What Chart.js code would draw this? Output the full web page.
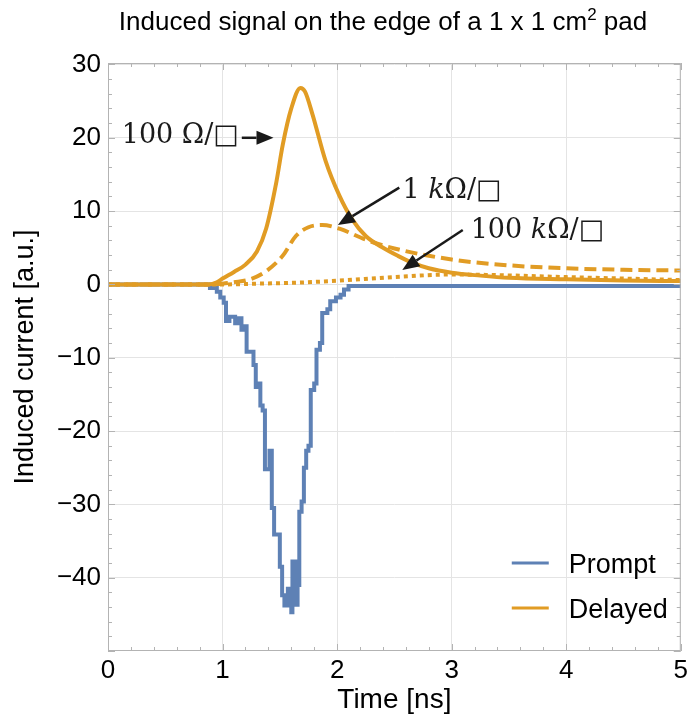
<!DOCTYPE html>
<html>
<head>
<meta charset="utf-8">
<title>Induced signal on the edge of a pad</title>
<script src="https://cdn.jsdelivr.net/npm/chart.js"></script>
<style>
  html, body { margin: 0; padding: 0; background: #fff; }
</style>
</head>
<body>
<canvas id="chart" width="692" height="722"></canvas>
<script>
// Prompt signal (blue, stepped histogram)
const promptT = [0, 0.89, 0.95, 0.98, 1.01, 1.03, 1.06, 1.11, 1.145, 1.165, 1.18, 1.21, 1.27, 1.29, 1.32, 1.33, 1.35, 1.37, 1.41, 1.43, 1.45, 1.50, 1.52, 1.54, 1.57, 1.60, 1.61, 1.635, 1.655, 1.67, 1.69, 1.71, 1.73, 1.75, 1.77, 1.80, 1.82, 1.85, 1.87, 1.915, 1.94, 1.99, 2.03, 2.06, 2.10, 5.0];
const promptI = [0, -0.5, -1.0, -1.8, -2.5, -5.0, -4.4, -5.3, -4.6, -6.2, -5.7, -9.2, -11, -14, -13.5, -16.5, -17.2, -25.2, -22.7, -30.5, -34.1, -38.5, -42.4, -43.8, -41.5, -44.7, -37.8, -43.7, -41, -31, -29.6, -25, -22.7, -22, -14.4, -13.5, -8.9, -8, -3.9, -3.4, -2.3, -1.8, -1.4, -0.7, -0.2, -0.2];

// Delayed signal, 100 Ohm/sq (solid)
const fastT = [0, 0.88, 0.95, 1.0, 1.1, 1.2, 1.3, 1.38, 1.47, 1.525, 1.6, 1.68, 1.72, 1.785, 1.9, 2.02, 2.13, 2.25, 2.39, 2.53, 2.65, 2.8, 3.0, 3.25, 3.5, 4.0, 4.5, 5.0];
const fastI = [0, 0, 0.3, 0.8, 1.7, 2.7, 4.5, 7.6, 14, 19, 24, 26.8, 26.3, 23.2, 16.8, 12.1, 8.9, 6.6, 5.1, 3.9, 3.0, 2.2, 1.6, 1.2, 0.9, 0.7, 0.55, 0.45];

// Delayed signal, 1 kOhm/sq (dashed)
const midT = [0, 0.9, 1.0, 1.1, 1.24, 1.38, 1.525, 1.64, 1.75, 1.87, 2.02, 2.25, 2.5, 3.0, 3.5, 4.0, 4.5, 5.0];
const midI = [0, 0, 0.1, 0.3, 0.7, 1.8, 3.9, 6.6, 7.8, 8.1, 7.6, 6.1, 4.9, 3.4, 2.6, 2.2, 2.0, 1.9];

// Delayed signal, 100 kOhm/sq (dotted)
const slowT = [0, 1.0, 1.3, 1.67, 2.0, 2.5, 3.0, 3.3, 4.0, 4.5, 5.0];
const slowI = [0, 0, 0.1, 0.25, 0.5, 1.0, 1.35, 1.3, 1.0, 0.8, 0.6];

const xTicks = [0, 1, 2, 3, 4, 5];
const yTicks = [-40, -30, -20, -10, 0, 10, 20, 30];
const legendNames = ['Prompt', 'Delayed'];

// annotation labels: pieces [text, italic], label anchor, arrow start, arrow tip (data units)
const annoPieces = [
  [['100 Ω/□', false]],
  [['1 ', false], ['k', true], ['Ω/□', false]],
  [['100 ', false], ['k', true], ['Ω/□', false]]
];
const annoLabelAt = [[0.12, 19.3], [2.57, 11.8], [3.166, 6.34]];
const annoFrom = [[1.168, 20.0], [2.543, 13.2], [3.097, 7.43]];
const annoTo = [[1.445, 20.0], [2.007, 8.1], [2.569, 1.98]];

const BLUE = '#5e81b5';
const ORANGE = '#e19c24';
const SANS = '"Liberation Sans", Arial, sans-serif';

const pts = (ts, vs) => ts.map((t, i) => ({ x: t, y: vs[i] }));
const minus = v => (v < 0 ? '\u2212' + Math.abs(v) : '' + v);

const framePlugin = {
  id: 'frame',
  afterDatasetsDraw(chart) {
    const { ctx, chartArea: a, scales: { x, y } } = chart;
    ctx.save();
    ctx.strokeStyle = '#b3b3b3';
    ctx.lineWidth = 1;
    ctx.strokeRect(a.left + 0.5, a.top + 0.5, a.right - a.left - 1, a.bottom - a.top - 1);
    ctx.beginPath();
    for (let i = 0; i <= 25; i++) {
      const px = Math.round(x.getPixelForValue(i * 0.2)) + 0.5;
      const len = i % 5 === 0 ? 7 : 4;
      ctx.moveTo(px, a.bottom); ctx.lineTo(px, a.bottom - len);
      ctx.moveTo(px, a.top); ctx.lineTo(px, a.top + len);
    }
    for (let v = -50; v <= 30; v += 2) {
      const py = Math.round(y.getPixelForValue(v)) + 0.5;
      const len = v % 10 === 0 ? 7 : 4;
      ctx.moveTo(a.left, py); ctx.lineTo(a.left + len, py);
      ctx.moveTo(a.right, py); ctx.lineTo(a.right - len, py);
    }
    ctx.stroke();
    ctx.restore();
  },
  afterDraw(chart) {
    const { ctx, chartArea: a, scales: { x, y } } = chart;
    ctx.save();
    // title with superscript
    const main = 'Induced signal on the edge of a 1 x 1 cm';
    const tail = ' pad';
    ctx.fillStyle = '#000';
    ctx.textBaseline = 'alphabetic';
    ctx.font = '26px ' + SANS;
    const w1 = ctx.measureText(main).width, w3 = ctx.measureText(tail).width;
    ctx.font = '17px ' + SANS;
    const w2 = ctx.measureText('2').width;
    let tx = 383 - (w1 + w2 + w3) / 2;
    ctx.font = '26px ' + SANS;
    ctx.fillText(main, tx, 30);
    ctx.font = '17px ' + SANS;
    ctx.fillText('2', tx + w1, 20);
    ctx.font = '26px ' + SANS;
    ctx.fillText(tail, tx + w1 + w2, 30);

    // legend
    const colors = [BLUE, ORANGE];
    legendNames.forEach((name, i) => {
      const ly = a.bottom - 88 + i * 45;
      ctx.strokeStyle = colors[i];
      ctx.lineWidth = 3;
      ctx.beginPath();
      ctx.moveTo(a.right - 169, ly); ctx.lineTo(a.right - 132, ly);
      ctx.stroke();
      ctx.fillStyle = '#000';
      ctx.font = '27px ' + SANS;
      ctx.fillText(name, a.right - 112, ly + 10);
    });

    // annotations
    ctx.fillStyle = '#1a1a1a';
    ctx.strokeStyle = '#1a1a1a';
    annoPieces.forEach((pieces, i) => {
      let px = x.getPixelForValue(annoLabelAt[i][0]);
      const py = y.getPixelForValue(annoLabelAt[i][1]);
      pieces.forEach(([txt, it]) => {
        ctx.font = (it ? 'italic ' : '') + '27px "DejaVu Serif", serif';
        ctx.fillText(txt, px, py);
        px += ctx.measureText(txt).width;
      });
      const x0 = x.getPixelForValue(annoFrom[i][0]), y0 = y.getPixelForValue(annoFrom[i][1]);
      const x1 = x.getPixelForValue(annoTo[i][0]), y1 = y.getPixelForValue(annoTo[i][1]);
      const ang = Math.atan2(y1 - y0, x1 - x0);
      const hl = 17, hw = 7;
      const bx = x1 - hl * Math.cos(ang), by = y1 - hl * Math.sin(ang);
      ctx.lineWidth = 2.5;
      ctx.beginPath();
      ctx.moveTo(x0, y0); ctx.lineTo(bx, by);
      ctx.stroke();
      ctx.beginPath();
      ctx.moveTo(x1, y1);
      ctx.lineTo(bx + hw * Math.sin(ang), by - hw * Math.cos(ang));
      ctx.lineTo(bx - hw * Math.sin(ang), by + hw * Math.cos(ang));
      ctx.closePath();
      ctx.fill();
    });
    ctx.restore();
  }
};

new Chart(document.getElementById('chart'), {
  type: 'line',
  data: {
    datasets: [
      { label: 'Prompt', data: pts(promptT, promptI), borderColor: BLUE, borderWidth: 4,
        stepped: true, pointRadius: 0, order: 4 },
      { label: 'Delayed 100 Ω/□', data: pts(fastT, fastI), borderColor: ORANGE, borderWidth: 4,
        cubicInterpolationMode: 'monotone', pointRadius: 0, order: 1 },
      { label: 'Delayed 1 kΩ/□', data: pts(midT, midI), borderColor: ORANGE, borderWidth: 4,
        borderDash: [12, 6], cubicInterpolationMode: 'monotone', pointRadius: 0, order: 2 },
      { label: 'Delayed 100 kΩ/□', data: pts(slowT, slowI), borderColor: ORANGE, borderWidth: 4,
        borderDash: [4, 4], cubicInterpolationMode: 'monotone', pointRadius: 0, order: 3 }
    ]
  },
  options: {
    responsive: false,
    animation: false,
    devicePixelRatio: 1,
    layout: { padding: { top: 63, right: 6, left: 0, bottom: 0 } },
    plugins: { legend: { display: false }, tooltip: { enabled: false } },
    scales: {
      x: {
        type: 'linear', min: 0, max: 5,
        afterBuildTicks: s => { s.ticks = xTicks.map(v => ({ value: v })); },
        afterFit: s => { s.height = 71; },
        grid: { color: '#e4e4e4', drawTicks: false },
        border: { display: false },
        ticks: { color: '#000', font: { family: SANS, size: 26 }, padding: 4, maxRotation: 0, autoSkip: false },
        title: { display: true, text: 'Time [ns]', color: '#000', font: { family: SANS, size: 28 }, padding: { top: 0, bottom: 5 } }
      },
      y: {
        type: 'linear', min: -50, max: 30.2,
        afterBuildTicks: s => { s.ticks = yTicks.map(v => ({ value: v })); },
        afterFit: s => { s.width = 108; },
        grid: { color: '#e4e4e4', drawTicks: false },
        border: { display: false },
        ticks: { color: '#000', font: { family: SANS, size: 26 }, padding: 7, callback: minus, autoSkip: false },
        title: { display: true, text: 'Induced current [a.u.]', color: '#000', font: { family: SANS, size: 27 }, padding: { top: 9, bottom: 0 } }
      }
    }
  },
  plugins: [framePlugin]
});
</script>
</body>
</html>
